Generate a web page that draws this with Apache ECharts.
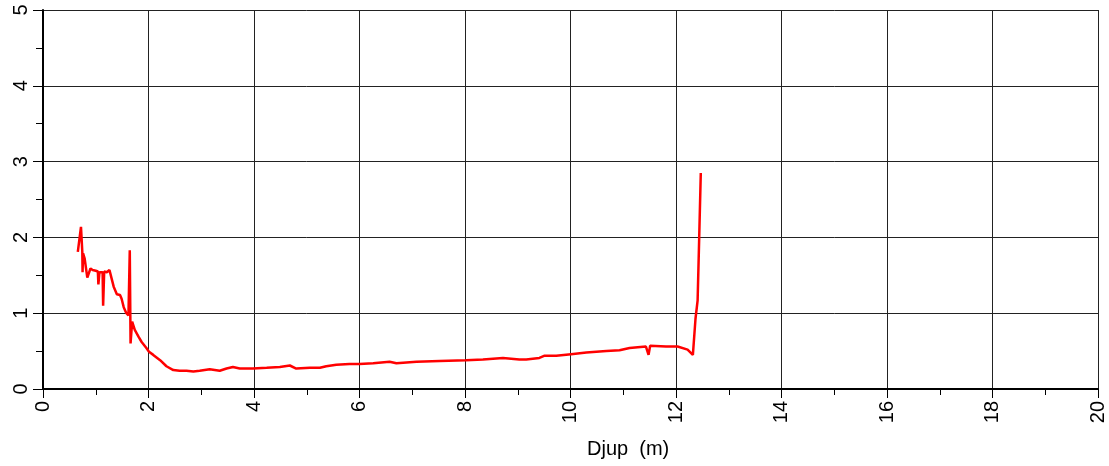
<!DOCTYPE html>
<html>
<head>
<meta charset="utf-8">
<script src="https://cdn.jsdelivr.net/npm/echarts@6/dist/echarts.min.js"></script>
<style>
  html, body { margin: 0; padding: 0; background: #fff; }
  #chart { width: 1109px; height: 466px; }
</style>
</head>
<body>
<div id="chart"></div>
<script>
// Depth along the profile (m)
const depth = [0.66, 0.69, 0.72, 0.745, 0.75, 0.76, 0.79, 0.81, 0.84, 0.86, 0.90, 0.94, 1.00, 1.04, 1.05, 1.07,
  1.10, 1.13, 1.14, 1.16, 1.21, 1.26, 1.30, 1.34, 1.40, 1.46, 1.49, 1.53, 1.58, 1.62, 1.645, 1.66, 1.69, 1.74,
  1.81, 1.87, 1.96, 2.01, 2.09, 2.22, 2.34, 2.47, 2.59, 2.72, 2.85, 2.97, 3.16, 3.35, 3.48, 3.60, 3.73, 3.98,
  4.24, 4.49, 4.68, 4.80, 5.06, 5.25, 5.37, 5.56, 5.81, 6.00, 6.26, 6.57, 6.70, 7.08, 7.52, 8.02, 8.34, 8.72,
  9.03, 9.16, 9.41, 9.51, 9.73, 10.01, 10.30, 10.68, 10.93, 11.12, 11.43, 11.48, 11.51, 11.81, 12.03, 12.22,
  12.32, 12.37, 12.40, 12.41, 12.44, 12.47];

// Measured value at each depth
const values = [1.81, 1.83, 2.14, 1.81, 1.54, 1.79, 1.72, 1.70, 1.47, 1.51, 1.59, 1.57, 1.56, 1.55, 1.38, 1.54,
  1.55, 1.54, 1.10, 1.55, 1.54, 1.57, 1.46, 1.35, 1.25, 1.24, 1.19, 1.08, 1.00, 0.97, 1.83, 0.60, 0.89, 0.78,
  0.69, 0.62, 0.54, 0.49, 0.45, 0.38, 0.30, 0.25, 0.24, 0.24, 0.23, 0.24, 0.26, 0.24, 0.27, 0.29, 0.27, 0.27,
  0.28, 0.29, 0.31, 0.27, 0.28, 0.28, 0.30, 0.32, 0.33, 0.33, 0.34, 0.36, 0.34, 0.36, 0.37, 0.38, 0.39, 0.41,
  0.39, 0.39, 0.41, 0.44, 0.44, 0.46, 0.48, 0.50, 0.51, 0.54, 0.56, 0.45, 0.57, 0.56, 0.56, 0.52,
  0.45, 0.93, 0.95, 1.17, 2.00, 2.85];

const xAxisTitle = 'Djup  (m)';

const chart = echarts.init(document.getElementById('chart'), null, { renderer: 'canvas' });

const font = 'Liberation Sans, Arial, sans-serif';
const gridLine = { show: true, lineStyle: { color: '#222', width: 1 } };

chart.setOption({
  animation: false,
  backgroundColor: '#fff',
  grid: { left: 43, right: 11, top: 10, bottom: 77, containLabel: false },
  xAxis: {
    type: 'value',
    min: 0, max: 20, interval: 2,
    axisLine: { show: true, onZero: false, lineStyle: { color: '#000', width: 2 } },
    axisTick: { show: true, inside: false, length: 9, lineStyle: { color: '#000', width: 1 } },
    minorTick: { show: true, splitNumber: 2, length: 6, lineStyle: { color: '#000', width: 1 } },
    splitLine: gridLine,
    axisLabel: { rotate: 90, margin: 12, fontSize: 20, color: '#000', fontFamily: font }
  },
  yAxis: {
    type: 'value',
    min: 0, max: 5, interval: 1,
    axisLine: { show: true, onZero: false, lineStyle: { color: '#000', width: 2 } },
    axisTick: { show: true, inside: false, length: 10, lineStyle: { color: '#000', width: 1 } },
    minorTick: { show: true, splitNumber: 2, length: 7, lineStyle: { color: '#000', width: 1 } },
    splitLine: gridLine,
    axisLabel: { rotate: 90, margin: 12, fontSize: 20, color: '#000', fontFamily: font }
  },
  graphic: [{
    type: 'text',
    x: 587, y: 449,
    style: { text: xAxisTitle, fontSize: 20, fontFamily: font, fill: '#000', align: 'left', verticalAlign: 'middle' }
  }],
  series: [{
    type: 'line',
    data: depth.map((d, i) => [d, values[i]]),
    showSymbol: false,
    symbol: 'none',
    lineStyle: { color: '#ff0000', width: 2.5 },
    clip: true
  }]
});
</script>
</body>
</html>
